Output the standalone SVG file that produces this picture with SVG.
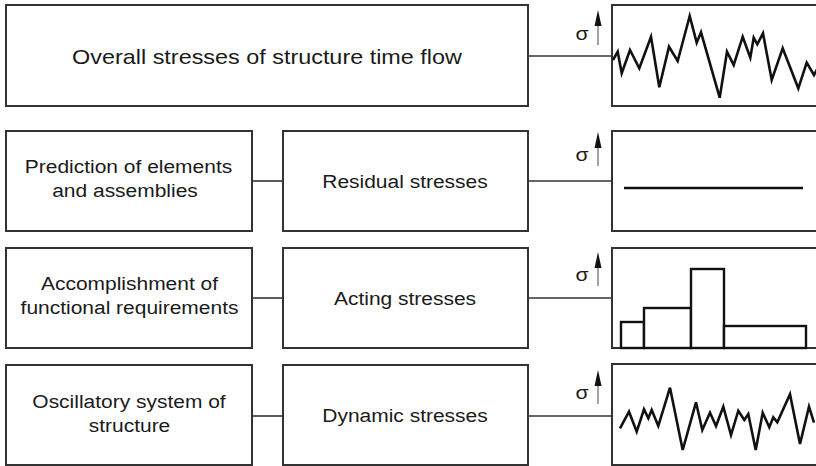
<svg xmlns="http://www.w3.org/2000/svg" width="816" height="466" viewBox="0 0 816 466">
<style>
.box{fill:#fff;stroke:#333;stroke-width:2}
.con{stroke:#333;stroke-width:1.6;fill:none}
.wave{fill:none;stroke:#111;stroke-width:2.6;stroke-linejoin:miter}
.bar{fill:#fff;stroke:#111;stroke-width:2.4}
.t{font-family:"Liberation Sans",Arial,sans-serif;font-size:19px;fill:#1a1a1a;text-anchor:middle}
.title{font-size:21px}
.sig{font-family:"Liberation Sans",Arial,sans-serif;font-size:19px;fill:#1a1a1a;text-anchor:middle}
.stem{stroke:#666;stroke-width:1.2}
.head{fill:#111}
</style>
<rect width="816" height="466" fill="#fff"/>
<g id="connectors">
<line class="con" x1="528" y1="56" x2="612" y2="56"/>
<line class="con" x1="252" y1="181" x2="283" y2="181"/>
<line class="con" x1="528" y1="181" x2="612" y2="181"/>
<line class="con" x1="252" y1="298" x2="283" y2="298"/>
<line class="con" x1="528" y1="298" x2="612" y2="298"/>
<line class="con" x1="252" y1="416" x2="283" y2="416"/>
<line class="con" x1="528" y1="416" x2="612" y2="416"/>
</g>
<g id="overall">
<rect class="box" x="6" y="5" width="522" height="101"/>
<text class="t title" transform="translate(267,64) scale(1.114,1)">Overall stresses of structure time flow</text>
</g>
<g id="prediction">
<rect class="box" x="6" y="131" width="246" height="100"/>
<text class="t" transform="translate(128.5,173) scale(1.104,1)">Prediction of elements</text>
<text class="t" transform="translate(125,197) scale(1.104,1)">and assemblies</text>
</g>
<g id="residual">
<rect class="box" x="283" y="131" width="245" height="100"/>
<text class="t" transform="translate(405,188) scale(1.104,1)">Residual stresses</text>
</g>
<g id="accomplishment">
<rect class="box" x="6" y="248" width="246" height="100"/>
<text class="t" transform="translate(129.5,290) scale(1.104,1)">Accomplishment of</text>
<text class="t" transform="translate(129.5,314) scale(1.104,1)">functional requirements</text>
</g>
<g id="acting">
<rect class="box" x="283" y="248" width="245" height="100"/>
<text class="t" transform="translate(405,305) scale(1.104,1)">Acting stresses</text>
</g>
<g id="oscillatory">
<rect class="box" x="6" y="365" width="246" height="100"/>
<text class="t" transform="translate(129,408) scale(1.104,1)">Oscillatory system of</text>
<text class="t" transform="translate(129.5,432) scale(1.104,1)">structure</text>
</g>
<g id="dynamic">
<rect class="box" x="283" y="365" width="245" height="100"/>
<text class="t" transform="translate(405,422) scale(1.104,1)">Dynamic stresses</text>
</g>
<g id="graph-overall">
<rect class="box" x="612" y="5" width="220" height="101"/>
<text class="sig" transform="translate(582,40) scale(1.12,1)">σ</text>
<line class="stem" x1="598" y1="45" x2="598" y2="22"/>
<polygon class="head" points="594.5,26 598,10 601.5,26"/>
<polyline class="wave" points="613,60 617.7,51.7 621.7,73.3 630,50 639.3,68.3 651,36.7 659.3,87.3 669,46.7 677.7,61 689.7,16 696.7,42.7 701,32.3 719.7,97.7 727,51.7 733.7,65 742.7,36.7 750.3,57.7 753.7,37.7 757.3,44.3 763,33.3 771.7,80 782.7,48.3 798.3,88.3 806.7,62.7 814,75 820,64"/>
</g>
<g id="graph-residual">
<rect class="box" x="612" y="131" width="220" height="100"/>
<text class="sig" transform="translate(582,161) scale(1.12,1)">σ</text>
<line class="stem" x1="598" y1="166" x2="598" y2="144"/>
<polygon class="head" points="594.5,148 598,132 601.5,148"/>
<line class="wave" x1="624" y1="188" x2="803" y2="188"/>
</g>
<g id="graph-acting">
<rect class="box" x="612" y="248" width="220" height="100"/>
<text class="sig" transform="translate(582,281) scale(1.12,1)">σ</text>
<line class="stem" x1="598" y1="286" x2="598" y2="264"/>
<polygon class="head" points="594.5,268 598,252 601.5,268"/>
<rect class="bar" x="621" y="322" width="23" height="26"/>
<rect class="bar" x="644" y="308" width="47" height="40"/>
<rect class="bar" x="691" y="269" width="33" height="79"/>
<rect class="bar" x="724" y="326" width="82" height="22"/>
</g>
<g id="graph-dynamic">
<rect class="box" x="612" y="364" width="220" height="101"/>
<text class="sig" transform="translate(582,399) scale(1.12,1)">σ</text>
<line class="stem" x1="598" y1="404" x2="598" y2="382"/>
<polygon class="head" points="594.5,386 598,370 601.5,386"/>
<polyline class="wave" points="620,428.3 629,411.7 636.7,431.7 644,409.3 648.3,418.3 651.7,410 658.3,426 670,387.7 682.7,450 696,402.3 702.3,430 710,412.7 716,426 723.3,406.7 731,435 738.3,410.7 744.3,420 748.3,414 755.7,450 762.7,412.7 769.3,427.3 773.3,417.3 777.3,422.3 790,394.3 800,444 809,406.7 814,422.7"/>
</g>
</svg>
